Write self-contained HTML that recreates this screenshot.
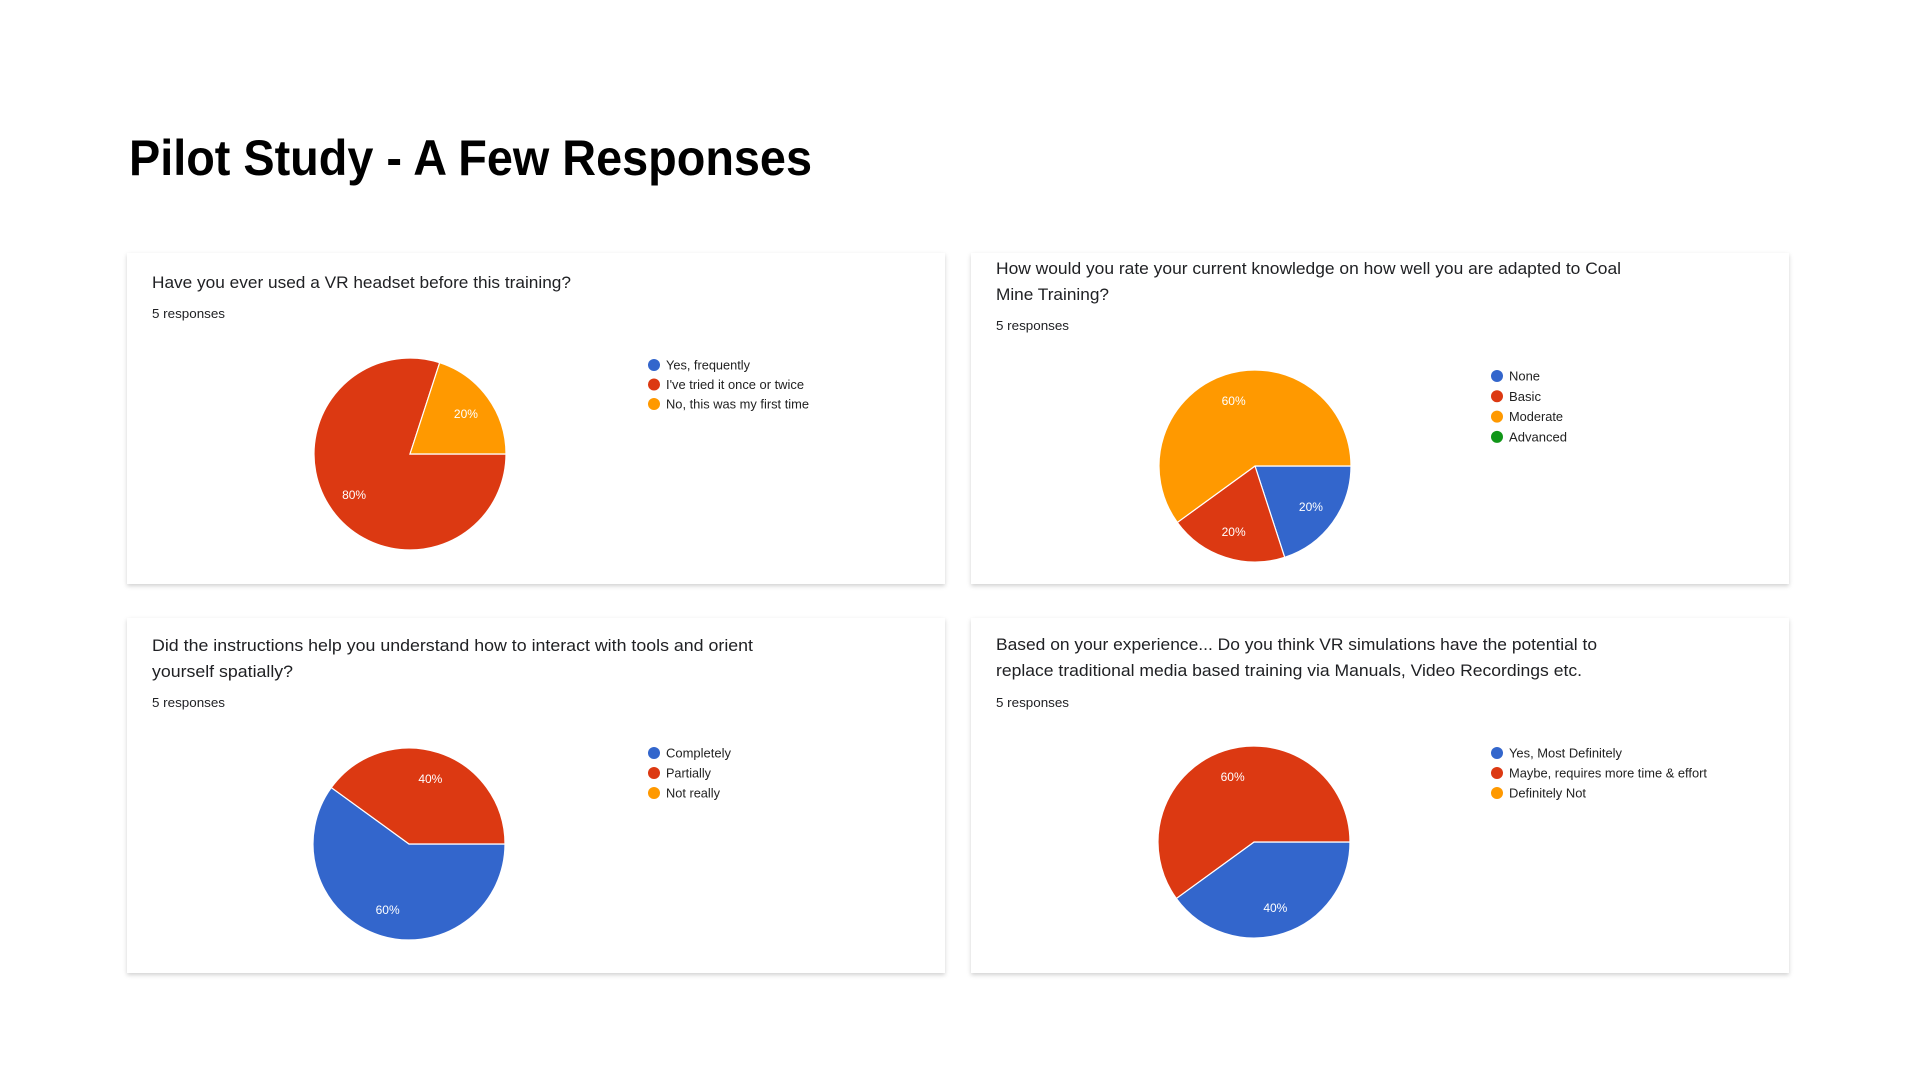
<!DOCTYPE html>
<html><head><meta charset="utf-8"><style>
html,body{margin:0;padding:0;background:#fff;width:1920px;height:1080px;overflow:hidden}
svg{display:block}
text{font-family:"Liberation Sans",sans-serif}
</style></head><body>
<svg id="root" width="1920" height="1080" viewBox="0 0 1920 1080">
<defs>
<filter id="sh" x="-5%" y="-5%" width="110%" height="115%"><feDropShadow dx="0" dy="2" stdDeviation="2" flood-color="#000" flood-opacity="0.18"/></filter>
</defs>
<text x="129" y="175" font-size="50" font-weight="bold" fill="#000" textLength="683" lengthAdjust="spacingAndGlyphs">Pilot Study - A Few Responses</text>
<g id="cards"></g>
</svg>
<script>
const colors = ["#3366cc","#dc3912","#ff9900","#109618"];
const c1Labels = ["Yes, frequently","I've tried it once or twice","No, this was my first time"];
const c1Values = [0,80,20];
const c2Labels = ["None","Basic","Moderate","Advanced"];
const c2Values = [20,20,60,0];
const c3Labels = ["Completely","Partially","Not really"];
const c3Values = [60,40,0];
const c4Labels = ["Yes, Most Definitely","Maybe, requires more time & effort","Definitely Not"];
const c4Values = [40,60,0];

const NS="http://www.w3.org/2000/svg";
const root=document.getElementById('cards');
function mk(tag,attrs,parent){const e=document.createElementNS(NS,tag);for(const k in attrs)e.setAttribute(k,attrs[k]);parent.appendChild(e);return e;}

const cards=[
 {name:'vr-headset-card',x:127,y:253,w:818,h:331,q:[["Have you ever used a VR headset before this training?",419]],qy:[282],ry:313,
  cx:410,cy:454,lx:654,ly:365,ldy:19.5,labels:c1Labels,values:c1Values,lw:[84,138,143]},
 {name:'knowledge-card',x:971,y:253,w:818,h:331,q:[["How would you rate your current knowledge on how well you are adapted to Coal",625],["Mine Training?",113]],qy:[268,294],ry:325,
  cx:1255,cy:466,lx:1497,ly:376,ldy:20.3,labels:c2Labels,values:c2Values,lw:[31,32,54,58]},
 {name:'instructions-card',x:127,y:618,w:818,h:355,q:[["Did the instructions help you understand how to interact with tools and orient",601],["yourself spatially?",141]],qy:[645,671],ry:702,
  cx:409,cy:844,lx:654,ly:753,ldy:20,labels:c3Labels,values:c3Values,lw:[65,45,54]},
 {name:'replace-media-card',x:971,y:618,w:818,h:355,q:[["Based on your experience... Do you think VR simulations have the potential to",601],["replace traditional media based training via Manuals, Video Recordings etc.",586]],qy:[644,670],ry:702,
  cx:1254,cy:842,lx:1497,ly:753,ldy:20,labels:c4Labels,values:c4Values,lw:[113,198,77]}
];
const R=96;
cards.forEach((c,ci)=>{
  const g=mk('g',{},root);
  
  
  const bg=mk('rect',{x:c.x,y:c.y,width:c.w,height:c.h,fill:'#fff',filter:'url(#sh)'},g);
  
  
  const qx=c.x+25;
  c.q.forEach((line,i)=>{
    const t=mk('text',{x:qx,y:c.qy[i]+6,'font-size':17,fill:'#202124',textLength:line[1],lengthAdjust:'spacingAndGlyphs'},g);
    t.textContent=line[0];
    
    
  });
  const r=mk('text',{x:qx,y:c.ry+5,'font-size':13,fill:'#202124',textLength:73,lengthAdjust:'spacingAndGlyphs'},g);
  r.textContent='5 responses';
  
  
  const total=c.values.reduce((a,b)=>a+b,0);
  let ang=90;
  const pt=(a,rad)=>[c.cx+rad*Math.sin(a*Math.PI/180),c.cy-rad*Math.cos(a*Math.PI/180)];
  c.values.forEach((v,i)=>{
    if(v<=0)return;
    const sweep=v/total*360;
    const a0=ang,a1=ang+sweep;
    let el;
    if(sweep>=359.99){el=mk('circle',{cx:c.cx,cy:c.cy,r:R,fill:colors[i]},g);}
    else{
      const p0=pt(a0,R),p1=pt(a1,R);
      el=mk('path',{d:`M${c.cx},${c.cy}L${p0[0]},${p0[1]}A${R},${R} 0 ${sweep>180?1:0} 1 ${p1[0]},${p1[1]}Z`,fill:colors[i],stroke:'#fff','stroke-width':1.2},g);
    }
    
    
    const lp=pt((a0+a1)/2,R*0.72);
    const lt=mk('text',{x:lp[0],y:lp[1]+4.5,'font-size':12,fill:'#fff','text-anchor':'middle'},g);
    lt.textContent=Math.round(v/total*100)+'%';
    
    
    ang=a1;
  });
  c.labels.forEach((lab,i)=>{
    const y=c.ly+i*c.ldy;
    const d=mk('circle',{cx:c.lx,cy:y,r:6,fill:colors[i]},g);
    
    
    const t=mk('text',{x:c.lx+12,y:y+4.5,'font-size':13,fill:'#222',textLength:c.lw[i],lengthAdjust:'spacingAndGlyphs'},g);
    t.textContent=lab;
    
    
  });
});
</script>
</body></html>
